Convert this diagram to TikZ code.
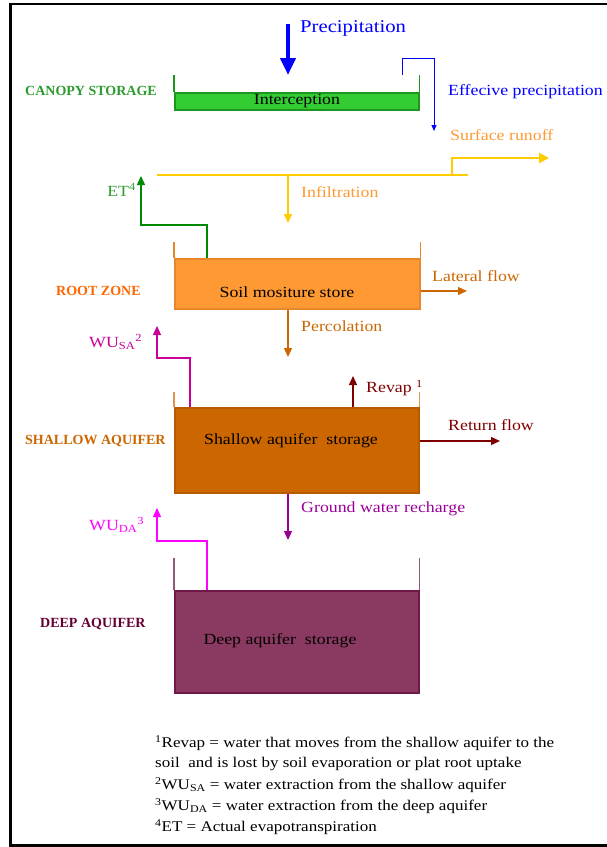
\documentclass[tikz,border=0pt]{standalone}
\usepackage{fontspec}
\setmainfont{Liberation Serif}[FakeStretch=1.15]
\newfontfamily\plainserif{Liberation Serif}
\usetikzlibrary{arrows.meta}
\definecolor{cfill}{HTML}{33CC33}
\definecolor{cdraw}{HTML}{1E961E}
\definecolor{ctext}{HTML}{2E9B2E}
\definecolor{etcol}{HTML}{008800}
\definecolor{rfill}{HTML}{FF9933}
\definecolor{rdraw}{HTML}{E8862A}
\definecolor{rtext}{HTML}{FF6600}
\definecolor{latcol}{HTML}{CC6600}
\definecolor{sfill}{HTML}{CC6600}
\definecolor{sdraw}{HTML}{B85A00}
\definecolor{swall}{HTML}{DE9550}
\definecolor{sacol}{HTML}{CC0099}
\definecolor{dacol}{HTML}{FF00FF}
\definecolor{revcol}{HTML}{800000}
\definecolor{gwcol}{HTML}{990099}
\definecolor{dfill}{HTML}{8A3A60}
\definecolor{ddraw}{HTML}{701848}
\definecolor{dwall}{HTML}{8E5A78}
\definecolor{dtext}{HTML}{660033}
\definecolor{ycol}{HTML}{FFCC00}
\definecolor{ocol}{HTML}{FF9933}
\definecolor{pblue}{HTML}{0000FF}
\begin{document}
\begin{tikzpicture}[x=1pt,y=-1pt,
  lab/.style={font=\fontsize{15.5}{18}\selectfont, inner sep=0pt, anchor=west},
  zonelab/.style={font=\plainserif\bfseries\fontsize{14}{16}\selectfont, inner sep=0pt, anchor=west},
  traytext/.style={font=\fontsize{15.5}{18}\selectfont, inner sep=0pt, text=black},
  note/.style={font=\fontsize{14.8}{18}\selectfont, inner sep=0pt, anchor=west, text=black},
  tray/.style={rectangle, line width=1.5pt, inner sep=0pt, anchor=north west},
  wallline/.style={line width=1.8pt},
  flow/.style={line width=1.3pt, -{Triangle[length=9pt,width=8pt]}},
]
\useasboundingbox (0,0) rectangle (607,847);
% frame
\draw[line width=2.5pt] (607,4) -- (10.5,4) -- (10.5,845.5) -- (607,845.5);

% trays
\node[tray, fill=cfill, draw=cdraw, minimum width=244pt, minimum height=17pt] (cs) at (174,92) {};
\draw[wallline, cdraw] (cs.north west) -- ++(0,-17);
\draw[wallline, cdraw] (cs.north east) -- ++(0,-17);
\node[traytext] (cst) at (297,101) {Interception};

\node[tray, fill=rfill, draw=rdraw, minimum width=245pt, minimum height=50pt] (rz) at (174,258) {};
\draw[wallline, rdraw] (rz.north west) -- ++(0,-16);
\draw[wallline, rdraw] (rz.north east) -- ++(0,-16);
\node[traytext] (rzt) at (287,292) {Soil mositure store};

\node[tray, fill=sfill, draw=sdraw, minimum width=244pt, minimum height=85pt] (sa) at (174,407) {};
\draw[wallline, swall] (sa.north west) -- ++(0,-15);
\draw[wallline, swall] (sa.north east) -- ++(0,-15);
\node[traytext] (sat) at (291,441) {Shallow aquifer\ \ storage};

\node[tray, fill=dfill, draw=ddraw, minimum width=244pt, minimum height=102pt] (da) at (174,590) {};
\draw[wallline, dwall] (da.north west) -- ++(0,-32);
\draw[wallline, dwall] (da.north east) -- ++(0,-32);
\node[traytext] (dat) at (280,641) {Deep aquifer\ \ storage};

% zone labels
\node[zonelab, text=ctext] (czl) at (25,91) {CANOPY STORAGE};
\node[zonelab, text=rtext] (rzl) at (56,291) {ROOT ZONE};
\node[zonelab, text=latcol] (szl) at (25,441) {SHALLOW AQUIFER};
\node[zonelab, text=dtext] (dzl) at (40,624) {DEEP AQUIFER};

% precipitation
\coordinate (ptop) at (288,24);
\coordinate (pend) at (288,75);
\draw[line width=4.5pt, pblue, -{Triangle[length=17pt,width=15pt]}] (ptop) -- (pend);
\node[lab, font=\fontsize{18}{20}\selectfont, text=pblue] (plab) at (300,28) {Precipitation};

% effective precipitation
\coordinate (ep0) at (402,75);
\coordinate (ep1) at (434,58);
\coordinate (ep2) at (434,131);
\draw[line width=1pt, pblue, -{Triangle[length=6pt,width=5pt]}] (ep0) |- (ep1) -- (ep2);
\node[lab, text=pblue] (eplab) at (448,92) {Effecive precipitation};

% surface runoff / infiltration
\coordinate (y0) at (157,175);
\coordinate (y1) at (468,175);
\coordinate (yb) at (452,175);
\coordinate (sr) at (549,158);
\coordinate (ib) at (288,175);
\coordinate (it) at (288,223);
\draw[line width=2.5pt, ycol] (y0) -- (y1);
\draw[line width=2.5pt, ycol, -{Triangle[length=10pt,width=10pt]}] (yb) |- (sr);
\draw[flow, ycol, line width=1.6pt] (ib) -- (it);
\node[lab, text=ocol] (srlab) at (450,135) {Surface runoff};
\node[lab, text=ocol] (inlab) at (301,192) {Infiltration};

% ET
\coordinate (et0) at (207,258);
\coordinate (et2) at (207,225);
\coordinate (et1) at (141,176);
\draw[flow, etcol, line width=1.2pt] (et0) -- (et2) -| (et1);
\node[lab, text=ctext, anchor=east] (etlab) at (136,190) {ET\textsuperscript{4}};

% lateral flow
\coordinate (lf) at (467,291);
\draw[flow, latcol] (rz.east |- lf) -- (lf);
\node[lab, text=latcol] (lflab) at (432,276) {Lateral flow};

% percolation
\coordinate (pc) at (288,357);
\draw[flow, latcol] (rz.south -| pc) -- (pc);
\node[lab, text=latcol] (pclab) at (301,326) {Percolation};

% WU SA
\coordinate (ws0) at (190,407);
\coordinate (ws1) at (190,358);
\coordinate (ws2) at (157,326);
\draw[flow, sacol, line width=1.2pt] (ws0) -- (ws1) -| (ws2);
\node[lab, text=sacol] (wslab) at (89,342) {WU\textsubscript{SA}\textsuperscript{2}};

% revap
\coordinate (rv) at (353,376);
\draw[flow, revcol] (sa.north -| rv) -- (rv);
\node[lab, text=revcol] (rvlab) at (366,388) {Revap \textsuperscript{1}};

% return flow
\coordinate (rf) at (500,441);
\draw[flow, revcol] (sa.east |- rf) -- (rf);
\node[lab, text=revcol] (rflab) at (448,425) {Return flow};

% ground water recharge
\coordinate (gw) at (288,540);
\draw[flow, gwcol] (sa.south -| gw) -- (gw);
\node[lab, text=gwcol] (gwlab) at (301,509) {Ground water recharge};

% WU DA
\coordinate (wd0) at (207,590);
\coordinate (wd1) at (207,541);
\coordinate (wd2) at (157,508);
\draw[flow, dacol, line width=1.2pt] (wd0) -- (wd1) -| (wd2);
\node[lab, text=dacol] (wdlab) at (89,525) {WU\textsubscript{DA}\textsuperscript{3}};

% footnotes
\node[note] (n1) at (155,743) {\textsuperscript{1}Revap = water that moves from the shallow aquifer to the};
\node[note] (n2) at (155,764) {soil\ \ and is lost by soil evaporation or plat root uptake};
\node[note] (n3) at (155,785) {\textsuperscript{2}WU\textsubscript{SA} = water extraction from the shallow aquifer};
\node[note] (n4) at (155,806) {\textsuperscript{3}WU\textsubscript{DA} = water extraction from the deep aquifer};
\node[note] (n5) at (155,827) {\textsuperscript{4}ET = Actual evapotranspiration};
\end{tikzpicture}
\end{document}
